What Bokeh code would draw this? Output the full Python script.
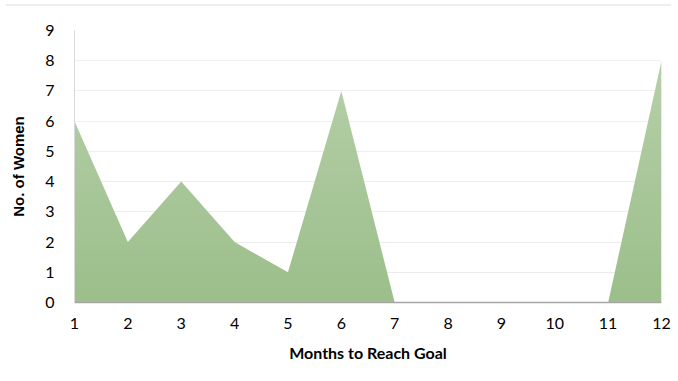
import numpy as np
from bokeh.plotting import figure
from bokeh.models import Range1d, FixedTicker, Div
from bokeh.layouts import column
from bokeh.embed import file_html
from bokeh.resources import INLINE

# Months taken to reach the goal and how many women needed each
months = [1, 2, 3, 4, 5, 6, 7, 8, 9, 10, 11, 12]
women = [6, 2, 4, 2, 1, 7, 0, 0, 0, 0, 0, 8]
y_ticks = [0, 1, 2, 3, 4, 5, 6, 7, 8, 9]

p = figure(
    width=678, height=375,
    x_range=Range1d(1, 12), y_range=Range1d(0, 9),
    output_backend="svg", toolbar_location=None,
    min_border_left=74, min_border_right=17,
    min_border_top=24, min_border_bottom=79,
)

# solid green area under the series
p.varea(x=months, y1=0, y2=women, fill_color="#9cbf8b", fill_alpha=1.0)

# white wash that fades in with height, giving the area a soft vertical gradient
rows = 256
alpha = np.linspace(0.0, 0.30, rows)
rgba = np.zeros((rows, 1, 4), dtype=np.uint8)
rgba[..., 0:3] = 255
rgba[:, 0, 3] = (alpha * 255).astype(np.uint8)
img = rgba.view(dtype=np.uint32).reshape((rows, 1))
p.image_rgba(image=[img], x=1, y=0, dw=11, dh=9)

# axes
p.xaxis.ticker = FixedTicker(ticks=months)
p.yaxis.ticker = FixedTicker(ticks=y_ticks)
p.xaxis.axis_label = "Months to Reach Goal"
p.yaxis.axis_label = "No. of Women"

for ax in (p.xaxis, p.yaxis):
    ax.major_tick_line_color = None
    ax.minor_tick_line_color = None
    ax.major_label_text_font = "Lato"
    ax.major_label_text_font_size = "16px"
    ax.major_label_text_color = "#000000"
    ax.axis_label_text_font_style = "bold"
    ax.axis_label_text_color = "#000000"

p.xaxis.axis_line_color = "#a6a6a6"
p.xaxis.axis_line_width = 1.5
p.xaxis.major_label_standoff = 9
p.xaxis.axis_label_standoff = 11
p.xaxis.axis_label_text_font = "Lato"
p.xaxis.axis_label_text_font_size = "16px"

p.yaxis.axis_line_color = "#d9d9d9"
p.yaxis.major_label_standoff = 14
p.yaxis.axis_label_standoff = 15
p.yaxis.axis_label_text_font = "Liberation Sans"
p.yaxis.axis_label_text_font_size = "15px"

p.xgrid.visible = False
p.ygrid.grid_line_color = "#ebebeb"
p.ygrid.grid_line_width = 1

p.outline_line_color = None
p.background_fill_color = "white"
p.border_fill_color = "white"

# thin rule across the top of the chart
rule = Div(width=665, height=2, margin=(4, 0, 0, 6),
           styles={"background-color": "#eeeeee"})

layout = column(rule, p, spacing=0)

open("out.html", "w").write(file_html(layout, INLINE))
